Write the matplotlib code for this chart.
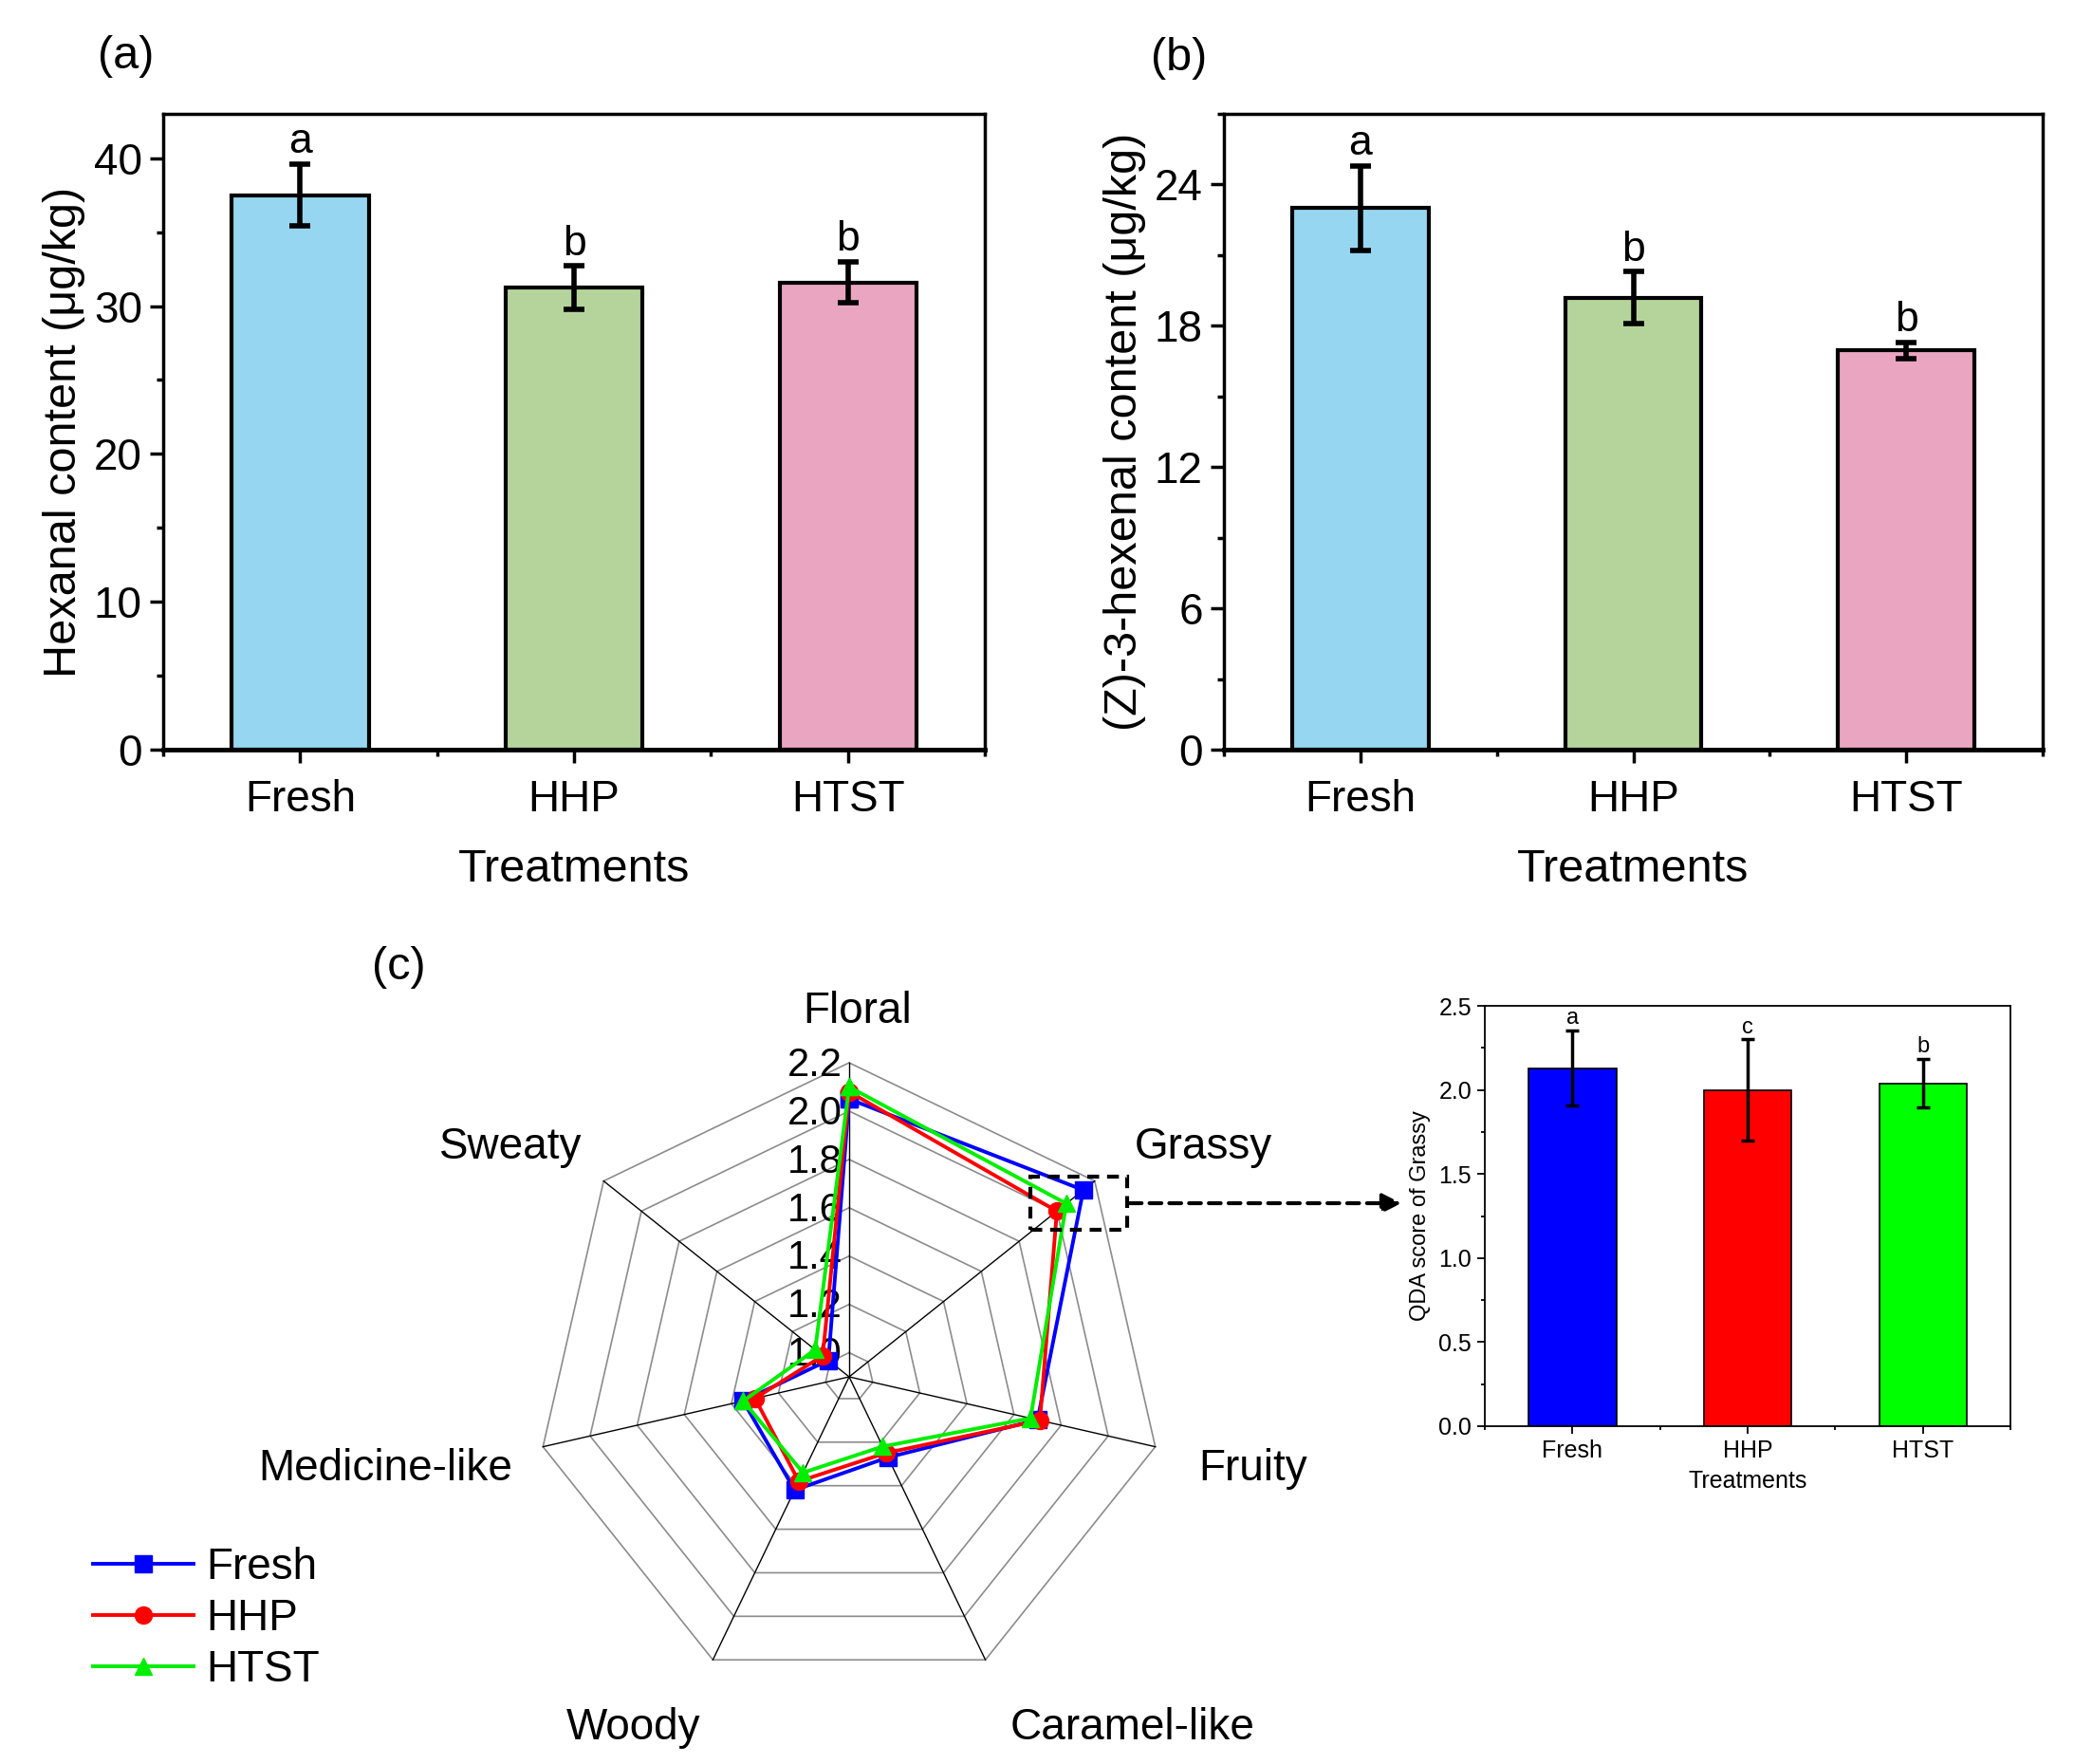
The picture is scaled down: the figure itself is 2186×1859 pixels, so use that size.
import numpy as np
import matplotlib
matplotlib.use("Agg")
import matplotlib.pyplot as plt
from matplotlib.ticker import MultipleLocator, FixedLocator
from matplotlib.patches import Rectangle, FancyArrowPatch

plt.rcParams['font.family'] = ['Liberation Sans', 'DejaVu Sans']

# ---- data ----
treatments = ['Fresh', 'HHP', 'HTST']

hexanal = [37.5, 31.25, 31.6]
hexanal_err = [2.1, 1.45, 1.4]
hexanal_sig = ['a', 'b', 'b']

hexenal = [23.0, 19.2, 16.95]
hexenal_err = [1.8, 1.1, 0.35]
hexenal_sig = ['a', 'b', 'b']

attributes = ['Floral', 'Grassy', 'Fruity', 'Caramel-like', 'Woody', 'Medicine-like', 'Sweaty']
qda_fresh = [2.05, 2.14, 1.70, 1.27, 1.42, 1.35, 1.01]
qda_hhp = [2.08, 2.00, 1.71, 1.25, 1.38, 1.30, 1.04]
qda_htst = [2.10, 2.05, 1.67, 1.22, 1.34, 1.35, 1.08]
radar_ticks = [1.0, 1.2, 1.4, 1.6, 1.8, 2.0, 2.2]

grassy = [2.13, 2.00, 2.04]
grassy_err = [0.225, 0.30, 0.145]
grassy_sig = ['a', 'c', 'b']

W, H = 2186, 1859
fig = plt.figure(figsize=(W / 100, H / 100), dpi=100)


def px(x0, y0, x1, y1):
    # pixel box -> figure fraction rect
    return [x0 / W, 1 - y1 / H, (x1 - x0) / W, (y1 - y0) / H]


bar_cols = ['#97d6f1', '#b4d49b', '#eaa5c1']


def bar_panel(rect, vals, errs, sig, ylim, major, minor, ylabel, tag, tagpos):
    ax = fig.add_axes(rect)
    x = np.arange(1, 4)
    ax.bar(x, vals, width=0.5, color=bar_cols, edgecolor='black', linewidth=3, zorder=2)
    ax.errorbar(x, vals, yerr=errs, fmt='none', ecolor='black', elinewidth=4,
                capsize=8, capthick=4, zorder=3)
    for xi, v, e, s in zip(x, vals, errs, sig):
        ax.text(xi, v + e + ylim * 0.004, s, ha='center', va='bottom', fontsize=32)
    ax.set_xlim(0.5, 3.5)
    ax.set_ylim(0, ylim)
    ax.set_xticks(x)
    ax.set_xticklabels(treatments)
    ax.xaxis.set_minor_locator(FixedLocator([0.5, 1.5, 2.5, 3.5]))
    ax.yaxis.set_major_locator(MultipleLocator(major))
    ax.yaxis.set_minor_locator(MultipleLocator(minor))
    ax.tick_params(which='major', direction='out', length=10, width=2.5, labelsize=33, pad=6)
    ax.tick_params(which='minor', direction='out', length=5, width=2.5)
    ax.tick_params(axis='x', which='major', pad=12)
    for sp in ax.spines.values():
        sp.set_linewidth(2.5)
    ax.spines['bottom'].set_linewidth(3.5)
    ax.set_xlabel('Treatments', fontsize=35, labelpad=21)
    ax.set_ylabel(ylabel, fontsize=35, labelpad=6)
    fig.text(tagpos[0] / W, 1 - tagpos[1] / H, tag, fontsize=35, ha='center', va='center')
    return ax


bar_panel(px(172, 120, 1038, 790), hexanal, hexanal_err, hexanal_sig, 43, 10, 5,
          'Hexanal content (μg/kg)', '(a)', (133, 60))
bar_panel(px(1290, 120, 2153, 790), hexenal, hexenal_err, hexenal_sig, 27, 6, 3,
          '(Z)-3-hexenal content (μg/kg)', '(b)', (1243, 62))

# ---- radar (c) ----
cx, cy, R = 895, 1451, 331
rad = fig.add_axes(px(cx - R, cy - R, cx + R, cy + R), projection='polar')
rad.set_theta_zero_location('N')
rad.set_theta_direction(-1)
rmin, rmax = 0.9, 2.2
rad.set_rlim(rmin, rmax)
rad.grid(False)
rad.spines['polar'].set_visible(False)
rad.set_xticks([])
rad.set_yticks([])
rad.patch.set_alpha(0)

n = len(attributes)
theta = np.linspace(0, 2 * np.pi, n, endpoint=False)
theta_c = np.append(theta, theta[0])
for r in radar_ticks:
    rad.plot(theta_c, [r] * (n + 1), color='#8c8c8c', lw=1.2, zorder=1, clip_on=False)
for t in theta:
    rad.plot([t, t], [rmin, rmax], color='black', lw=1.0, zorder=1, clip_on=False)
for r in radar_ticks:
    rad.annotate(f'{r:.1f}', xy=(0, r), xytext=(-5, -2), textcoords='offset points',
                 ha='right', va='center', fontsize=30, zorder=1)

series = [(qda_fresh, 'Fresh', 'blue', 's'),
          (qda_hhp, 'HHP', 'red', 'o'),
          (qda_htst, 'HTST', '#00ee00', '^')]
handles = []
for vals, name, col, mk in series:
    h, = rad.plot(theta_c, vals + vals[:1], color=col, lw=2.8, marker=mk, markersize=13,
                  label=name, zorder=3, clip_on=False)
    handles.append(h)

label_pos = [(904, 1066), (1268, 1209), (1321, 1548), (1194, 1821),
             (668, 1821), (406, 1548), (538, 1209)]
for name, (lx, ly) in zip(attributes, label_pos):
    fig.text(lx / W, 1 - ly / H, name, fontsize=33, ha='center', va='center')
fig.text(420 / W, 1 - 1020 / H, '(c)', fontsize=35, ha='center', va='center')

fig.legend(handles=handles, loc='upper left', bbox_to_anchor=(80 / W, 1 - 1612 / H),
           frameon=False, fontsize=33, handlelength=2.3, handletextpad=0.3,
           labelspacing=0.22, borderaxespad=0)

# dashed zoom box and arrow to the inset
fig.patches.append(Rectangle((1086 / W, 1 - 1296 / H), 102 / W, 56 / H, transform=fig.transFigure,
                             fill=False, edgecolor='black', lw=3, ls=(0, (3, 2))))
fig.patches.append(FancyArrowPatch((1188 / W, 1 - 1268 / H), (1480 / W, 1 - 1268 / H),
                                   transform=fig.transFigure, arrowstyle='-|>',
                                   mutation_scale=30, color='black', lw=3,
                                   linestyle=(0, (3, 2))))

# ---- inset bar chart ----
narrow = ['Liberation Sans Narrow', 'Liberation Sans', 'DejaVu Sans']
ins = fig.add_axes(px(1565, 1060, 2119, 1503))
xi = np.arange(1, 4)
ins.bar(xi, grassy, width=0.5, color=['#0000ff', '#ff0000', '#00ff00'], edgecolor='black',
        linewidth=1.2, zorder=2)
ins.errorbar(xi, grassy, yerr=grassy_err, fmt='none', ecolor='black', elinewidth=2.5,
             capsize=5, capthick=2.5, zorder=3)
for x0, v, e, s in zip(xi, grassy, grassy_err, grassy_sig):
    ins.text(x0, v + e + 0.01, s, ha='center', va='bottom', fontsize=17, family=narrow)
ins.set_xlim(0.5, 3.5)
ins.set_ylim(0, 2.5)
ins.set_xticks(xi)
ins.set_xticklabels(treatments, family=narrow)
ins.xaxis.set_minor_locator(FixedLocator([0.5, 1.5, 2.5, 3.5]))
ins.yaxis.set_major_locator(MultipleLocator(0.5))
ins.yaxis.set_minor_locator(MultipleLocator(0.25))
ins.yaxis.set_major_formatter(matplotlib.ticker.FormatStrFormatter('%.1f'))
for lab in ins.get_yticklabels():
    lab.set_family(narrow)
ins.tick_params(which='major', direction='out', length=6, width=1.3, labelsize=18, pad=4)
ins.tick_params(which='minor', direction='out', length=3, width=1.3)
for sp in ins.spines.values():
    sp.set_linewidth(1.3)
ins.set_xlabel('Treatments', fontsize=18, family=narrow, labelpad=6)
ins.set_ylabel('QDA score of Grassy', fontsize=17, family=narrow, labelpad=6)

fig.savefig('out.png', dpi=100)
